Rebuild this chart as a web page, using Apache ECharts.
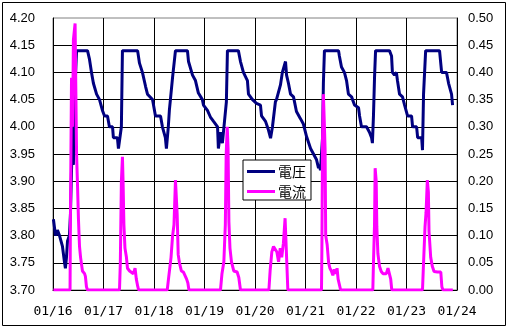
<!DOCTYPE html>
<html>
<head>
<meta charset="utf-8">
<script src="https://cdn.jsdelivr.net/npm/echarts@6/dist/echarts.min.js"></script>
<style>html,body{margin:0;padding:0;background:#fff;}#c{width:509px;height:327px;}</style>
</head>
<body>
<div id="c"></div>
<script>
// Tick labels
const dateLabels = ["01/16","01/17","01/18","01/19","01/20","01/21","01/22","01/23","01/24"];
const seriesNames = ["電圧","電流"];

// 電圧 (V): hours since 01/16 00:00, value
const voltHours = [0.2,1.2,2.1,3.1,4.0,4.5,5.5,5.9,6.4,6.9,7.8,8.3,9.3,9.7,10.2,11.2,16.4,17.3,18.3,19.2,20.7,22.1,23.5,24.5,25.9,26.8,28.3,28.7,30.6,31.1,32.0,32.5,33.0,40.2,41.1,42.5,44.0,44.9,47.3,48.7,51.1,52.0,53.4,53.9,54.8,55.3,55.8,56.8,58.2,63.9,64.4,66.3,67.7,69.1,71.0,71.5,73.4,74.8,76.3,78.2,78.6,79.6,80.5,81.5,82.4,82.9,88.1,89.1,90.5,92.4,92.9,94.8,96.7,98.6,99.1,101.0,102.4,103.4,104.3,105.7,106.2,108.1,109.0,110.5,111.0,111.9,112.9,114.3,115.7,117.6,119.0,120.5,122.4,123.8,125.2,126.2,126.6,127.1,128.1,128.5,129.0,135.7,136.1,137.1,138.5,139.5,140.4,141.9,143.3,145.2,145.7,146.6,149.0,150.4,151.4,151.8,152.3,152.8,153.3,159.9,160.9,161.3,162.3,163.2,163.7,164.7,166.1,167.1,168.5,170.4,170.9,172.8,173.3,175.2,175.6,176.1,177.1,183.7,184.7,187.0,188.0,189.4,189.9];
const voltValues = [3.83,3.80,3.81,3.80,3.80,3.78,3.75,3.74,3.76,3.79,3.80,3.84,4.00,3.93,4.05,4.14,4.14,4.125,4.10,4.08,4.06,4.05,4.03,4.02,4.02,4.00,4.00,3.98,3.98,3.96,3.96,4.00,4.14,4.14,4.117,4.10,4.074,4.06,4.05,4.02,4.02,4.00,3.98,3.96,4.00,4.03,4.05,4.09,4.14,4.14,4.12,4.095,4.085,4.062,4.05,4.04,4.03,4.018,4.01,4.00,3.96,3.99,3.97,4.01,4.046,4.14,4.14,4.12,4.10,4.085,4.06,4.05,4.043,4.04,4.02,4.01,3.994,3.979,4.00,4.046,4.05,4.077,4.10,4.12,4.095,4.08,4.06,4.055,4.028,4.015,4.005,3.982,3.96,3.95,3.94,3.924,3.93,3.92,3.98,4.08,4.14,4.14,4.13,4.11,4.10,4.085,4.06,4.055,4.04,4.035,4.02,4.00,4.00,3.99,3.98,3.97,4.02,4.09,4.14,4.14,4.13,4.10,4.095,4.10,4.085,4.06,4.055,4.04,4.02,4.02,4.00,4.00,3.98,3.98,3.957,4.06,4.14,4.14,4.10,4.10,4.08,4.06,4.04];

// 電流 (A): hours since 01/16 00:00, value
const currHours = [0.2,8.1,8.3,8.8,9.3,9.7,10.5,10.7,11.2,11.6,12.1,12.6,13.1,14.0,15.0,15.4,15.9,16.4,
  31.6,32.0,32.5,33.0,33.3,33.7,34.2,34.9,35.4,36.4,37.3,38.2,39.0,39.6,40.3,40.7,
  54.3,55.0,56.1,56.8,57.5,58.2,59.0,59.5,60.1,61.0,62.0,62.6,63.5,64.1,64.6,
  79.6,80.3,81.2,81.9,82.3,82.8,83.2,83.6,84.1,84.8,85.9,87.5,88.3,89.1,
  102.6,103.2,104.0,104.8,105.6,106.4,107.2,108.0,108.7,109.5,110.3,111.1,111.6,
  127.6,127.8,128.1,128.5,129.0,129.3,129.6,130.3,131.0,131.6,132.3,133.0,133.7,134.5,135.0,135.5,136.7,
  152.0,152.3,152.8,153.1,153.6,153.9,154.4,155.2,156.0,156.8,157.6,158.4,159.2,160.0,160.5,161.0,
  175.6,176.0,176.8,177.3,177.9,178.4,178.7,179.5,180.3,181.1,182.7,184.3,184.8,185.3,190.0];
const currValues = [0,0,0.14,0.39,0.30,0.46,0.49,0.42,0.25,0.20,0.13,0.08,0.06,0.035,0.03,0.025,0.006,0,
  0,0.05,0.20,0.245,0.20,0.12,0.077,0.06,0.04,0.035,0.038,0.03,0.04,0.02,0.006,0,
  0,0.024,0.06,0.098,0.12,0.202,0.14,0.065,0.05,0.035,0.033,0.03,0.02,0.013,0,
  0,0.03,0.052,0.12,0.248,0.30,0.26,0.125,0.077,0.052,0.035,0.033,0.023,0,
  0,0.036,0.07,0.08,0.078,0.07,0.052,0.077,0.06,0.086,0.132,0.052,0,
  0,0.08,0.28,0.36,0.30,0.26,0.10,0.083,0.05,0.04,0.035,0.027,0.038,0.03,0.04,0.02,0,
  0,0.05,0.12,0.224,0.20,0.116,0.067,0.043,0.034,0.03,0.027,0.03,0.04,0.043,0.02,0,
  0,0.04,0.116,0.143,0.202,0.18,0.108,0.06,0.043,0.034,0.033,0.033,0.006,0,0];

const voltData = voltHours.map((h, i) => [h, voltValues[i]]);
const currData = currHours.map((h, i) => [h, currValues[i]]);

const chart = echarts.init(document.getElementById('c'), null, {renderer: 'canvas'});
const font = "'Liberation Sans', Arial, sans-serif";
chart.setOption({
  animation: false,
  backgroundColor: '#ffffff',
  graphic: [{
    type: 'rect', z: 100,
    shape: {x: 2.5, y: 2.5, width: 503, height: 323},
    style: {fill: null, stroke: '#000', lineWidth: 1}
  }],
  grid: {left: 53, top: 18, width: 404, height: 272, show: true, borderColor: '#808080', borderWidth: 1, backgroundColor: 'transparent'},
  legend: {
    orient: 'vertical', left: 243, top: 160,
    data: seriesNames,
    backgroundColor: '#fff', borderColor: '#000', borderWidth: 1,
    padding: [4, 5, 1, 4], itemGap: 5, itemWidth: 28, itemHeight: 3,
    icon: 'rect',
    textStyle: {fontSize: 14, lineHeight: 15, color: '#000', fontFamily: "'Noto Sans CJK JP', sans-serif", padding: [0,0,0,-2]}
  },
  xAxis: {
    type: 'value', min: 0, max: 192, interval: 24,
    axisLine: {show: true, onZero: false, lineStyle: {color: '#000', width: 1}},
    axisTick: {show: false},
    splitLine: {show: true, lineStyle: {color: '#000', width: 1}},
    axisLabel: {
      margin: 15, color: '#000', fontSize: 13, fontFamily: "'DejaVu Sans Mono', monospace",
      formatter: v => dateLabels[Math.round(v / 24)]
    }
  },
  yAxis: [{
    type: 'value', min: 3.70, max: 4.20, interval: 0.05,
    axisLine: {show: true, lineStyle: {color: '#000', width: 1}},
    axisTick: {show: false},
    splitLine: {show: true, showMaxLine: false, lineStyle: {color: '#000', width: 1}},
    axisLabel: {margin: 18, color: '#000', fontSize: 13, fontFamily: font, formatter: v => v.toFixed(2)}
  }, {
    type: 'value', min: 0, max: 0.50, interval: 0.05, position: 'right',
    axisLine: {show: true, lineStyle: {color: '#000', width: 1}},
    axisTick: {show: false},
    splitLine: {show: false},
    axisLabel: {margin: 11, color: '#000', fontSize: 13, fontFamily: font, formatter: v => v.toFixed(2)}
  }],
  series: [{
    name: seriesNames[0], type: 'line', yAxisIndex: 0, data: voltData,
    showSymbol: false, symbol: 'none',
    lineStyle: {color: '#000080', width: 3}, itemStyle: {color: '#000080'}, z: 2
  }, {
    name: seriesNames[1], type: 'line', yAxisIndex: 1, data: currData,
    showSymbol: false, symbol: 'none',
    lineStyle: {color: '#FF00FF', width: 3}, itemStyle: {color: '#FF00FF'}, z: 3
  }]
});
</script>
</body>
</html>
